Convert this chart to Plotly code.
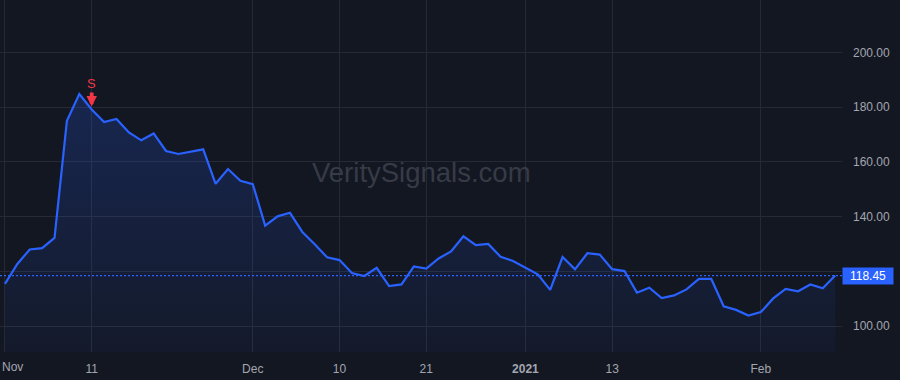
import plotly.graph_objects as go
import pandas as pd

# ---- data ----
holidays = ["2020-11-26", "2020-12-25", "2021-01-01", "2021-01-18"]
dates = [d.strftime("%Y-%m-%d") for d in pd.bdate_range("2020-11-02", "2021-02-09")
         if d.strftime("%Y-%m-%d") not in holidays]

prices = [115.4, 122.7, 128.0, 128.5, 132.2, 175.0, 184.8, 179.2, 174.6, 175.7,
          170.8, 167.9, 170.4, 164.0, 162.9, 163.7, 164.6, 152.0, 157.4, 153.1,
          151.9, 136.7, 140.1, 141.4, 134.4, 129.9, 125.1, 124.1, 119.4, 118.3,
          121.3, 114.6, 115.2, 121.8, 121.0, 124.7, 127.3, 132.8, 129.6, 130.0,
          125.3, 123.8, 121.5, 118.9, 113.2, 125.2, 120.7, 126.6, 126.1, 120.8,
          120.1, 112.2, 114.0, 110.2, 111.2, 113.4, 117.2, 117.2, 107.2, 105.9,
          103.8, 105.1, 110.1, 113.6, 112.7, 115.2, 113.8, 118.45]

tick_dates = ["2020-11-02", "2020-11-11", "2020-12-01", "2020-12-10",
              "2020-12-21", "2021-01-04", "2021-01-13", "2021-02-01"]
tick_labels = ["Nov", "11", "Dec", "10", "21", "<b>2021</b>", "13", "Feb"]

y_ticks = [100, 120, 140, 160, 180, 200]

signal_date = "2020-11-11"
signal_label = "S"
last_price = prices[-1]
watermark = "VeritySignals.com"

# ---- style ----
BG = "#131722"
GRID = "#262a35"
LINE = "#2962ff"
TXT = "#a3a6af"
FONT = "Liberation Sans, Arial, sans-serif"

fig = go.Figure()
fig.add_trace(go.Scatter(
    x=dates, y=prices, mode="lines",
    line=dict(color=LINE, width=2.2),
    fill="tozeroy",
    fillgradient=dict(type="vertical", start=90, stop=185,
                      colorscale=[[0, "rgba(41,98,255,0.04)"], [1, "rgba(41,98,255,0.21)"]]),
    hoverinfo="skip", showlegend=False,
))

sig_idx = dates.index(signal_date)
fig.add_annotation(
    x=signal_date, y=prices[sig_idx], xref="x", yref="y",
    text=signal_label, showarrow=True, arrowhead=2, arrowsize=0.55, arrowwidth=3.8,
    arrowcolor="#f23645", ax=0, ay=-26, standoff=3,
    font=dict(family=FONT, size=13, color="#f23645"),
)

fig.add_shape(type="line", xref="paper", x0=0, x1=1, yref="y", y0=last_price, y1=last_price,
              line=dict(color=LINE, width=1.3, dash="2px,2px"))

# x tick labels: the first one ("Nov") is drawn left-aligned at the plot edge, as in the reference
x_tick_text = [""] + tick_labels[1:]
fig.add_annotation(
    xref="paper", x=0, xanchor="left", yref="paper", y=-15 / 352, yanchor="middle",
    text=tick_labels[0], showarrow=False,
    font=dict(family=FONT, size=12, color=TXT),
)

# y tick labels; the 120 label sits behind the last-price box in the reference
y_tick_text = ["" if v == 120 else f"{v:.2f}" for v in y_ticks]

fig.add_annotation(
    xref="paper", x=1.0, xanchor="left", yref="y", y=last_price, yanchor="middle",
    text=f"{last_price:.2f}", showarrow=False, bgcolor=LINE,
    width=50, height=16, borderpad=0, align="center",
    font=dict(family=FONT, size=12, color="#ffffff"),
)

fig.add_annotation(
    xref="paper", x=0.5, yref="paper", y=(380 - 28 - 172) / 352, yanchor="middle",
    text=watermark, showarrow=False,
    font=dict(family=FONT, size=27.5, color="#373b47"),
)

fig.update_layout(
    width=900, height=380,
    margin=dict(l=0, r=58, t=0, b=28, autoexpand=False),
    paper_bgcolor=BG, plot_bgcolor=BG,
    font=dict(family=FONT, size=12, color=TXT),
    xaxis=dict(
        type="category", range=[-0.4, 67.55], automargin=False,
        tickmode="array", tickvals=tick_dates, ticktext=x_tick_text,
        showgrid=True, gridcolor=GRID, gridwidth=1,
        ticks="", ticklabelstandoff=8, zeroline=False, showline=False,
        tickfont=dict(color=TXT, size=12),
    ),
    yaxis=dict(
        side="right", range=[90.5, 219.2], automargin=False,
        tickmode="array", tickvals=y_ticks, ticktext=y_tick_text,
        showgrid=True, gridcolor=GRID, gridwidth=1,
        ticks="", ticklabelstandoff=10, zeroline=False, showline=False,
        tickfont=dict(color=TXT, size=12),
    ),
)

fig.write_html("out.html")
